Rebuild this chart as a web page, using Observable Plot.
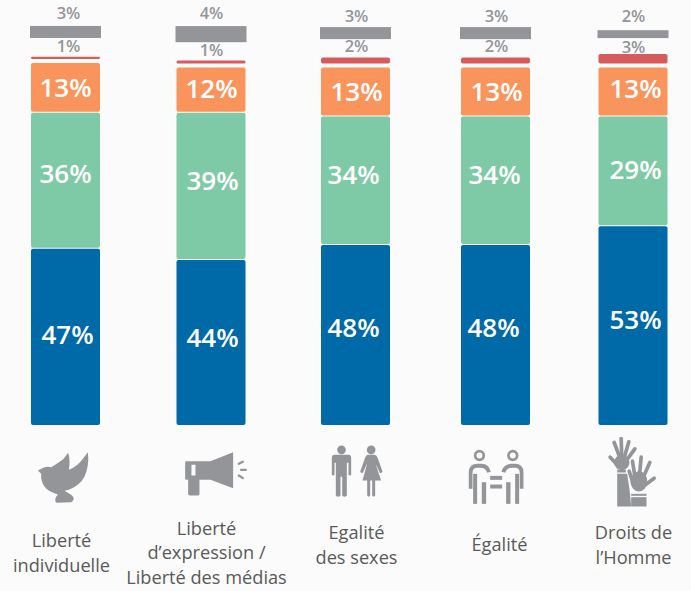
<!DOCTYPE html>
<html><head><meta charset="utf-8">
<script src="https://cdn.jsdelivr.net/npm/d3@7"></script>
<script src="https://cdn.jsdelivr.net/npm/@observablehq/plot@0.6"></script>
<style>html,body{margin:0;padding:0;background:#fbfbfb}svg{display:block}</style>
</head><body><div id="chart"></div>
<script>
const categories = ["Liberté\nindividuelle","Liberté\nd’expression /\nLiberté des médias","Egalité\ndes sexes","Égalité","Droits de\nl’Homme"];
const blue   = [47,44,48,48,53];
const green  = [36,39,34,34,29];
const orange = [13,11.8,12.8,12.8,12.8];
const red    = [0.6,0.8,1.6,1.6,2.5];
const gray   = [3.2,4.3,3.2,3.2,2.1];
const labelsBlue = [47,44,48,48,53], labelsGreen = [36,39,34,34,29], labelsOrange = [13,12,13,13,13], labelsRed = [1,1,2,2,3], labelsGray = [3,4,3,3,2];

// layout
const centers = [65.5,211,355.5,495.5,633];
const pxPerPct = 3.75, base = 425;
const gapSmall = 0.27, gapRed = 1.07;
const gapGray = [5,4.87,4.9,4.9,4.27];
const nudges = {
  blue:   {dx:[1.5,1,-2.5,-2.5,2], dy:[-2,-4,-7,-7,-5]},
  green:  {dx:[-0.5,1,-2.5,-1.5,2], dy:[-6,-5,-5,-5,-1]},
  orange: {dx:[-0.5,0,0.5,0.5,2], dy:[1,0,1,1,-2]},
  red:    {dx:[2.5,0,0.5,0.5,0], dy:[-10,-10,-11,-11,-7]},
  gray:   {dx:[2.5,0,0.5,0.5,0], dy:[-13,-13,-11,-11,-14]}
};
const labelNudge = {dx:[-4.5,-5,0.5,3.5,0], dy:[126,126,118,118,118]};

const colors = {blue:"#0069a7",green:"#7fcaa6",orange:"#f9955c",red:"#d65b5b",gray:"#939598"};
const series = [["blue",blue,labelsBlue],["green",green,labelsGreen],["orange",orange,labelsOrange],["red",red,labelsRed],["gray",gray,labelsGray]];

const rows = [];
centers.forEach((_,i)=>{
  let y = 0;
  series.forEach(([name,vals,labs],k)=>{
    if(k===1||k===2) y += gapSmall;
    if(k===3) y += gapRed;
    if(k===4) y += gapGray[i];
    rows.push({i,name,y1:y,y2:y+vals[i],label:labs[i]+"%"});
    y += vals[i];
  });
});
const solid = rows.filter(r=>r.name!=="gray");
const grayRows = rows.filter(r=>r.name==="gray");

const G = "#939598";
const wrap = (vb,body)=>"data:image/svg+xml,"+encodeURIComponent(`<svg xmlns="http://www.w3.org/2000/svg" viewBox="${vb}" fill="${G}" stroke="none">${body}</svg>`);
const icons = [
 {w:56.67,h:56.67,dx:-3.8,dy:51.7,src:wrap("100 115 170 170",`<path d="M112 180 L128 172 Q142 166 152 170 Q172 158 188 146 L203 127 Q210 150 205 178 Q232 166 246 146 L262 125 Q267 165 252 198 Q238 225 205 238 L192 241 L214 254 Q226 266 212 275 L168 277 Q158 268 172 252 Q142 244 130 226 Q120 208 122 190 Z"/>`)},
 {w:66.67,h:50,dx:4.3,dy:48.3,src:wrap("546 115 200 150",`<path fill-rule="evenodd" d="M558 152 H630 L698 125 V233 L630 208 H597 V250 Q597 255 592 255 H568 Q563 255 563 250 V208 H558 Q554 208 554 204 V156 Q554 152 558 152 Z M573 163 V195 H585 V163 Z"/><g stroke="${G}" stroke-width="7" stroke-linecap="round"><path d="M715 160 L727 154"/><path d="M722 178 L736 178"/><path d="M715 195 L727 203"/></g>`)},
 {w:75,h:70,dx:2,dy:45,src:wrap("0 0 225 210",`<circle cx="63" cy="43" r="13"/><path d="M42 58 H84 Q92 58 92 68 V118 Q88 122 84 118 V82 H79 V180 Q72 188 65 180 V124 H60 V180 Q53 188 46 180 V82 H42 V118 Q38 122 34 118 V68 Q34 58 42 58 Z"/><circle cx="152" cy="43" r="13"/><path d="M142 58 H162 Q168 58 171 66 L186 108 Q183 114 178 112 L165 84 L182 135 H164 V180 Q160 187 155 180 V135 H149 V180 Q145 187 140 180 V135 H126 L140 84 L127 112 Q122 114 119 108 L134 66 Q137 58 142 58 Z"/>`)},
 {w:61.67,h:60,dx:0.3,dy:51.7,src:wrap("360 110 185 180",(()=>{const p=`<circle cx="402" cy="135" r="13" fill="none" stroke="${G}" stroke-width="8"/><path d="M370 235 V186 Q370 160 396 160 H408 Q430 160 436 184 L425 187 Q420 172 406 172 H396 Q381 172 381 188 V235 Z"/><rect x="383" y="190" width="12" height="90"/><rect x="409" y="215" width="13" height="65"/>`;return p+`<g transform="translate(904 0) scale(-1 1)">${p}</g><rect x="434" y="196" width="36" height="12"/><rect x="434" y="222" width="36" height="12"/>`;})())},
 {w:65,h:80,dx:-0.5,dy:45,src:wrap("0 0 195 240",`<path d="M50 130 H80 Q88 175 92 228 H50 Z"/><rect x="50" y="118" width="26" height="8"/><g stroke="${G}" stroke-width="11" stroke-linecap="round"><path d="M62 92 L41 36"/><path d="M64 90 L62 24"/><path d="M68 92 L85 34"/><path d="M74 95 L103 55"/><path d="M55 108 L29 80"/></g><ellipse cx="64" cy="96" rx="23" ry="23"/><ellipse cx="115" cy="152" rx="27" ry="32" stroke="#fbfbfb" stroke-width="4"/><g stroke="#fbfbfb" stroke-width="15" stroke-linecap="round"><path d="M100 165 L86 122"/><path d="M105 150 L96 92"/></g><g stroke="${G}" stroke-width="11" stroke-linecap="round"><path d="M105 150 L96 92"/><path d="M116 145 L122 80"/><path d="M125 148 L148 96"/><path d="M132 165 L161 143"/><path d="M100 165 L86 122"/></g><ellipse cx="115" cy="153" rx="25" ry="30"/><rect x="92" y="190" width="46" height="6"/><rect x="92" y="200" width="46" height="28"/>`)}
];

const cols = categories.map((c,i)=>({i,text:c}));
const textMarks = rows.map(r=>{
  const n = nudges[r.name];
  const inBar = r.name==="blue"||r.name==="green"||r.name==="orange";
  return Plot.text([r],{
    x:"i",
    y:d=>inBar?(d.y1+d.y2)/2:d.y2,
    text:"label",
    dx:n.dx[r.i],dy:n.dy[r.i],
    fill:inBar?"#ffffff":"#939598",
    fontSize:inBar?26:16.5,
    fontWeight:600,
    fontFamily:"Open Sans",
    lineAnchor:"middle"
  });
});

const chart = Plot.plot({
  width:691,height:591,
  marginTop:0,marginRight:0,marginBottom:0,marginLeft:0,
  style:{background:"#fbfbfb"},
  x:{type:"linear",domain:[0,1,2,3,4],range:centers,axis:null},
  y:{type:"linear",domain:[0,400/pxPerPct],range:[base,base-400],axis:null},
  marks:[
    Plot.rect(solid,{x1:"i",x2:"i",y1:"y1",y2:"y2",insetLeft:-34.5,insetRight:-34.5,r:2,fill:d=>colors[d.name]}),
    Plot.rect(grayRows,{x1:"i",x2:"i",y1:"y1",y2:"y2",insetLeft:-35.5,insetRight:-35.5,fill:colors.gray}),
    ...textMarks,
    ...icons.map((ic,i)=>Plot.image([i],{x:d=>d,y:()=>0,src:()=>ic.src,width:ic.w,height:ic.h,dx:ic.dx,dy:ic.dy})),
    ...cols.map(c=>Plot.text([c],{x:"i",y:()=>0,text:"text",dx:labelNudge.dx[c.i],dy:labelNudge.dy[c.i],fill:"#595959",fontSize:18.2,fontFamily:"Open Sans",lineHeight:1.37,lineAnchor:"middle"}))
  ]
});
document.getElementById("chart").appendChild(chart);
</script></body></html>
